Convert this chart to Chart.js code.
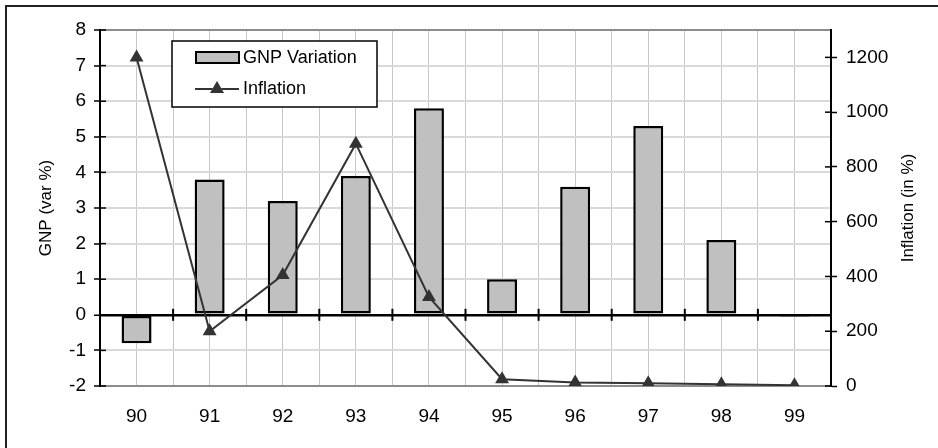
<!DOCTYPE html>
<html>
<head>
<meta charset="utf-8">
<script src="https://cdn.jsdelivr.net/npm/chart.js@4.4.1/dist/chart.umd.min.js"></script>
<style>
  html, body { margin: 0; padding: 0; background: #fff; }
  #wrap { position: relative; width: 938px; height: 448px; overflow: hidden; }
  #frame { position: absolute; left: 5px; top: 5px; width: 1000px; height: 1000px; border: 2px solid #222; }
  #chart { position: absolute; left: 0; top: 0; }
</style>
</head>
<body>
<div id="wrap"><div id="frame"></div><canvas id="chart" width="938" height="448"></canvas></div>
<script>
const years = ["90", "91", "92", "93", "94", "95", "96", "97", "98", "99"];
const gnpVariation = [-0.8, 3.8, 3.2, 3.9, 5.8, 1.0, 3.6, 5.3, 2.1, -0.05];
const inflation = [1200, 200, 405, 885, 325, 25, 13, 10, 6, 3];
const gnpRange = [-2, 8];
const inflationRange = [0, 1300];
const inflationStep = 200;
const inflationLastTick = 1200;

const FONT = "'Liberation Sans', Arial, sans-serif";

// cross ticks, zero line ticks, legend box and axis titles
const extras = {
  id: "extras",
  beforeDatasetsDraw(chart) {
    const { ctx, chartArea, scales } = chart;
    const x = scales.x, y = scales.y, y1 = scales.y1;
    const zeroY = y.getPixelForValue(0);
    ctx.save();
    ctx.strokeStyle = "#000";
    ctx.lineWidth = 2;
    for (let i = 0; i <= years.length; i++) {
      let px;
      if (i === 0) px = chartArea.left;
      else if (i === years.length) px = chartArea.right;
      else px = (x.getPixelForValue(i - 1) + x.getPixelForValue(i)) / 2;
      ctx.beginPath();
      ctx.moveTo(px, zeroY - 6);
      ctx.lineTo(px, zeroY + 6);
      ctx.stroke();
    }
    ctx.lineWidth = 1.5;
    y.ticks.forEach(t => {
      const py = y.getPixelForValue(t.value);
      ctx.beginPath();
      ctx.moveTo(chartArea.left, py);
      ctx.lineTo(chartArea.left + 6, py);
      ctx.stroke();
    });
    y1.ticks.forEach(t => {
      const py = y1.getPixelForValue(t.value);
      ctx.beginPath();
      ctx.moveTo(chartArea.right - 6, py);
      ctx.lineTo(chartArea.right, py);
      ctx.stroke();
    });
    ctx.restore();
  },
  afterDraw(chart) {
    const { ctx, chartArea } = chart;
    const bar = chart.data.datasets[0];
    const line = chart.data.datasets[1];
    ctx.save();

    // legend
    const lx = chartArea.left + 72, ly = chartArea.top + 11;
    ctx.fillStyle = "#fff";
    ctx.fillRect(lx, ly, 205, 66);
    ctx.strokeStyle = "#000";
    ctx.lineWidth = 1.5;
    ctx.strokeRect(lx, ly, 205, 66);

    ctx.fillStyle = bar.backgroundColor;
    ctx.fillRect(lx + 24, ly + 11, 43, 11);
    ctx.lineWidth = 2;
    ctx.strokeStyle = bar.borderColor;
    ctx.strokeRect(lx + 24, ly + 11, 43, 11);

    ctx.strokeStyle = line.borderColor;
    ctx.beginPath();
    ctx.moveTo(lx + 23, ly + 48);
    ctx.lineTo(lx + 67, ly + 48);
    ctx.stroke();
    Chart.helpers.drawPoint(ctx, { pointStyle: "triangle", radius: 8, borderWidth: 0 }, lx + 45, ly + 48);
    ctx.fillStyle = line.pointBackgroundColor;
    ctx.fill();

    ctx.fillStyle = "#000";
    ctx.font = "18px " + FONT;
    ctx.textBaseline = "middle";
    ctx.textAlign = "left";
    ctx.fillText(bar.label, lx + 71, ly + 17);
    ctx.fillText(line.label, lx + 71, ly + 48);

    // axis titles, both reading bottom to top
    const midY = (chartArea.top + chartArea.bottom) / 2;
    ctx.font = "17px " + FONT;
    ctx.textAlign = "center";
    ctx.translate(chartArea.left - 54, midY);
    ctx.rotate(-Math.PI / 2);
    ctx.fillText("GNP (var %)", 0, 0);
    ctx.rotate(Math.PI / 2);
    ctx.translate(-(chartArea.left - 54), -midY);
    ctx.translate(chartArea.right + 77, midY);
    ctx.rotate(-Math.PI / 2);
    ctx.fillText("Inflation (in %)", 0, 0);
    ctx.restore();
  }
};

new Chart(document.getElementById("chart"), {
  type: "bar",
  data: {
    labels: years,
    datasets: [
      {
        type: "bar",
        label: "GNP Variation",
        data: gnpVariation,
        yAxisID: "y",
        backgroundColor: "#c0c0c0",
        borderColor: "#000",
        borderWidth: 2.5,
        borderSkipped: false,
        barPercentage: 0.41,
        categoryPercentage: 1,
        order: 1,
      },
      {
        type: "line",
        label: "Inflation",
        data: inflation,
        yAxisID: "y1",
        borderColor: "#333",
        borderWidth: 2,
        pointStyle: "triangle",
        pointRadius: 8,
        pointBorderWidth: 0,
        pointBackgroundColor: "#333",
        tension: 0,
        order: 0,
      },
    ],
  },
  options: {
    responsive: false,
    animation: false,
    layout: { padding: { left: 0, right: 0, top: 30, bottom: 0 } },
    plugins: { legend: { display: false }, tooltip: { enabled: false } },
    scales: {
      x: {
        type: "category",
        offset: true,
        grid: { offset: true, color: "#c8c8c8", lineWidth: 1, drawTicks: false },
        border: { display: false },
        ticks: { color: "#000", font: { family: FONT, size: 19 }, padding: 19 },
        afterFit(scale) { scale.height = 62; },
      },
      x2: {
        type: "category",
        position: "bottom",
        offset: true,
        grid: { offset: false, color: "#c8c8c8", lineWidth: 1, drawTicks: false },
        border: { display: false },
        ticks: { display: false },
        afterFit(scale) { scale.height = 0; },
      },
      y: {
        position: "left",
        min: gnpRange[0],
        max: gnpRange[1],
        ticks: { stepSize: 1, color: "#000", font: { family: FONT, size: 19 }, padding: 8 },
        grid: {
          color: ctx => ctx.tick.value === 0 ? "#000" : (ctx.tick.value === gnpRange[0] || ctx.tick.value === gnpRange[1] ? "#8c8c8c" : "#d9d9d9"),
          lineWidth: ctx => ctx.tick.value === 0 ? 2.5 : 2,
          tickColor: "#000",
          tickWidth: 1.5,
          tickLength: 6,
        },
        border: { color: "#000", width: 2 },
        afterFit(scale) { scale.width = 100; },
      },
      y1: {
        position: "right",
        min: inflationRange[0],
        max: inflationRange[1],
        ticks: {
          stepSize: inflationStep,
          color: "#000",
          font: { family: FONT, size: 19 },
          padding: 9,
          callback: v => String(v),
        },
        afterBuildTicks(scale) {
          scale.ticks = scale.ticks.filter(t => t.value <= inflationLastTick);
        },
        grid: { drawOnChartArea: false, tickColor: "#000", tickWidth: 1.5, tickLength: 6 },
        border: { color: "#000", width: 2 },
        afterFit(scale) { scale.width = 107; },
      },
    },
  },
  plugins: [extras],
});
</script>
</body>
</html>
